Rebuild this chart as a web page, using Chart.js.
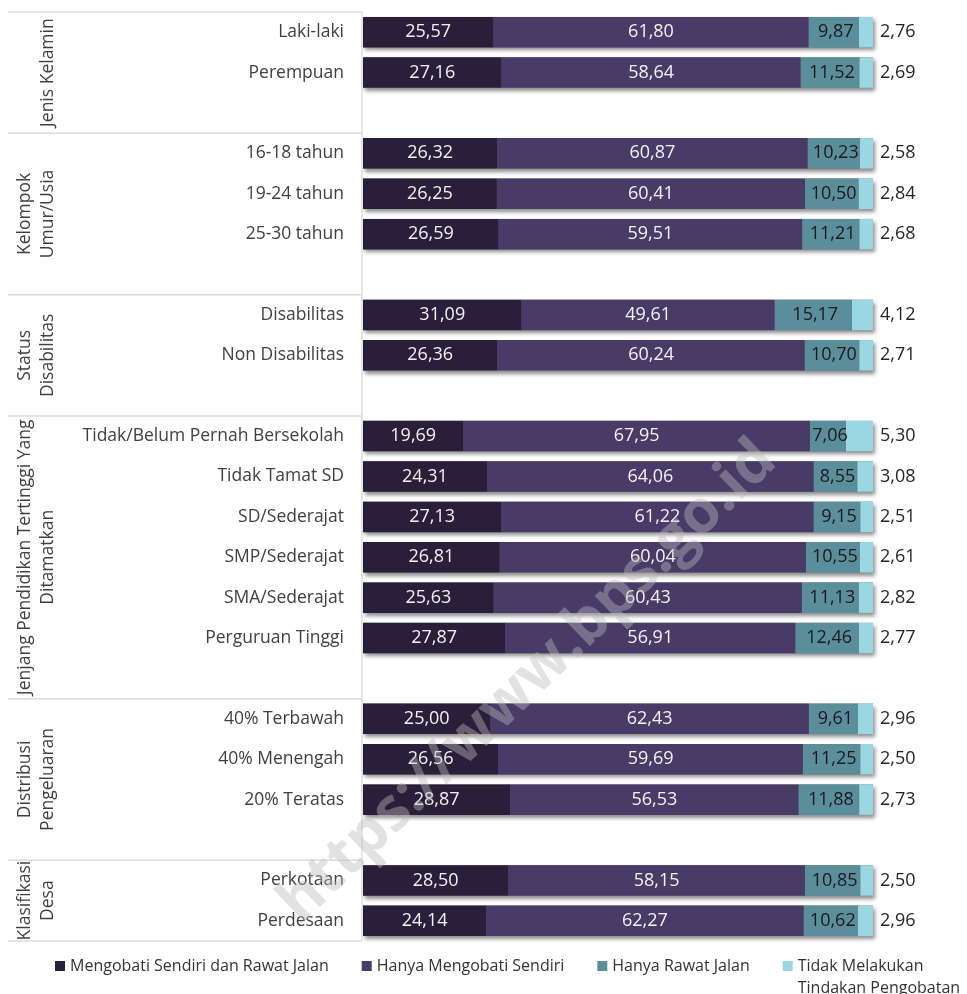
<!DOCTYPE html>
<html>
<head>
<meta charset="utf-8">
<script src="https://cdn.jsdelivr.net/npm/chart.js@4.4.1/dist/chart.umd.min.js"></script>
<style>
  html, body { margin: 0; padding: 0; background: #ffffff; }
  #wrap { width: 967px; height: 994px; position: relative; }
</style>
</head>
<body>
<div id="wrap"><canvas id="c"></canvas></div>
<script>
// ---- data ----
const categories = [
  'Laki-laki', 'Perempuan', '',
  '16-18 tahun', '19-24 tahun', '25-30 tahun', '',
  'Disabilitas', 'Non Disabilitas', '',
  'Tidak/Belum Pernah Bersekolah', 'Tidak Tamat SD', 'SD/Sederajat', 'SMP/Sederajat', 'SMA/Sederajat', 'Perguruan Tinggi', '',
  '40% Terbawah', '40% Menengah', '20% Teratas', '',
  'Perkotaan', 'Perdesaan'
];
const seriesNames = [
  'Mengobati Sendiri dan Rawat Jalan',
  'Hanya Mengobati Sendiri',
  'Hanya Rawat Jalan',
  'Tidak Melakukan Tindakan Pengobatan'
];
const mengobatiDanRawat = [25.57, 27.16, null, 26.32, 26.25, 26.59, null, 31.09, 26.36, null, 19.69, 24.31, 27.13, 26.81, 25.63, 27.87, null, 25.00, 26.56, 28.87, null, 28.50, 24.14];
const hanyaMengobati   = [61.80, 58.64, null, 60.87, 60.41, 59.51, null, 49.61, 60.24, null, 67.95, 64.06, 61.22, 60.04, 60.43, 56.91, null, 62.43, 59.69, 56.53, null, 58.15, 62.27];
const hanyaRawatJalan  = [9.87, 11.52, null, 10.23, 10.50, 11.21, null, 15.17, 10.70, null, 7.06, 8.55, 9.15, 10.55, 11.13, 12.46, null, 9.61, 11.25, 11.88, null, 10.85, 10.62];
const tidakMelakukan   = [2.76, 2.69, null, 2.58, 2.84, 2.68, null, 4.12, 2.71, null, 5.30, 3.08, 2.51, 2.61, 2.82, 2.77, null, 2.96, 2.50, 2.73, null, 2.50, 2.96];
const groupNames = [
  ['Jenis Kelamin'],
  ['Kelompok', 'Umur/Usia'],
  ['Status', 'Disabilitas'],
  ['Jenjang Pendidikan Tertinggi Yang', 'Ditamatkan'],
  ['Distribusi', 'Pengeluaran'],
  ['Klasifikasi', 'Desa']
];
const groupSizes = [3, 4, 3, 7, 4, 2];
const watermarkText = 'https://www.bps.go.id';

// ---- styles ----
const colors = ['#2a1f3a', '#483b68', '#5b8e9b', '#99d8e2'];
const FONT = "'Open Sans', 'Noto Sans', sans-serif";
const fmt = v => v.toFixed(2).replace('.', ',');

const shadowPlugin = {
  id: 'barShadow',
  beforeDatasetsDraw(chart) {
    const ctx = chart.ctx;
    const m0 = chart.getDatasetMeta(0);
    const mL = chart.getDatasetMeta(chart.data.datasets.length - 1);
    ctx.save();
    ctx.shadowColor = 'rgba(0,0,0,0.45)';
    ctx.shadowBlur = 4;
    ctx.shadowOffsetX = 2;
    ctx.shadowOffsetY = 3;
    ctx.fillStyle = '#777';
    m0.data.forEach((el, i) => {
      if (chart.data.datasets[0].data[i] == null) return;
      const last = mL.data[i];
      const h = el.height;
      ctx.fillRect(el.base, el.y - h / 2, last.x - el.base, h);
    });
    ctx.restore();
  }
};

const labelPlugin = {
  id: 'valueLabels',
  afterDatasetsDraw(chart) {
    const ctx = chart.ctx;
    ctx.save();
    ctx.font = '18px ' + FONT;
    ctx.textBaseline = 'middle';
    chart.data.datasets.forEach((ds, di) => {
      const meta = chart.getDatasetMeta(di);
      meta.data.forEach((el, i) => {
        const v = ds.data[i];
        if (v == null) return;
        if (di === 3) {
          ctx.fillStyle = '#262626';
          ctx.textAlign = 'left';
          ctx.fillText(fmt(v), el.x + 7, el.y);
        } else {
          ctx.fillStyle = di === 2 ? '#1a1a1a' : '#f2f2f2';
          ctx.textAlign = 'center';
          ctx.fillText(fmt(v), (el.x + el.base) / 2 + (di === 2 ? 2 : 0), el.y);
        }
      });
    });
    ctx.restore();
  }
};

const framePlugin = {
  id: 'groupFrame',
  afterDraw(chart) {
    const ctx = chart.ctx;
    const y = chart.scales.y;
    const area = chart.chartArea;
    const step = y.getPixelForValue(1) - y.getPixelForValue(0);
    ctx.save();
    ctx.strokeStyle = '#dcdcdc';
    ctx.lineWidth = 1.5;
    ctx.beginPath();
    ctx.moveTo(area.left - 1, area.top);
    ctx.lineTo(area.left - 1, area.bottom);
    ctx.stroke();
    let start = 0;
    const bounds = [y.getPixelForValue(0) - step / 2];
    groupSizes.forEach(n => { start += n; bounds.push(y.getPixelForValue(start - 1) + step / 2); });
    bounds.forEach(b => {
      ctx.beginPath();
      ctx.moveTo(8, b);
      ctx.lineTo(area.left - 1, b);
      ctx.stroke();
    });
    ctx.fillStyle = '#404040';
    ctx.font = '17.5px ' + FONT;
    ctx.textAlign = 'center';
    ctx.textBaseline = 'middle';
    groupNames.forEach((lines, g) => {
      const yc = (bounds[g] + bounds[g + 1]) / 2;
      lines.forEach((t, k) => {
        const x = 48 - (lines.length - 1 - k) * 23;
        ctx.save();
        ctx.translate(x, yc);
        ctx.rotate(-Math.PI / 2);
        ctx.fillText(t, 0, 0);
        ctx.restore();
      });
    });
    ctx.restore();

    // custom legend
    ctx.save();
    ctx.font = '16px ' + FONT;
    ctx.textBaseline = 'middle';
    ctx.textAlign = 'left';
    let x = 55;
    const ly = 966;
    chart.data.datasets.forEach((ds, di) => {
      ctx.fillStyle = ds.backgroundColor;
      ctx.fillRect(x, ly - 5, 10, 10);
      const words = ds.label.split(' ');
      const lines = [];
      let cur = '';
      words.forEach(w => {
        const test = cur ? cur + ' ' + w : w;
        if (ctx.measureText(test).width > 165 && cur && di === 3) { lines.push(cur); cur = w; }
        else cur = test;
      });
      lines.push(cur);
      ctx.fillStyle = '#333333';
      let maxW = 0;
      lines.forEach((l, li) => {
        ctx.fillText(l, x + 15, ly + li * 22);
        maxW = Math.max(maxW, ctx.measureText(l).width);
      });
      x += 15 + maxW + 33;
    });
    ctx.restore();

    // watermark
    ctx.save();
    ctx.translate(528, 682);
    ctx.rotate(-44 * Math.PI / 180);
    ctx.font = 'bold 60px ' + FONT;
    ctx.textAlign = 'center';
    ctx.textBaseline = 'middle';
    ctx.fillStyle = 'rgba(185,185,185,0.42)';
    ctx.fillText(watermarkText, 0, 0);
    ctx.restore();
  }
};

const seriesData = [mengobatiDanRawat, hanyaMengobati, hanyaRawatJalan, tidakMelakukan];

new Chart(document.getElementById('c'), {
  type: 'bar',
  data: {
    labels: categories,
    datasets: seriesData.map((d, i) => ({
      label: seriesNames[i],
      data: d,
      backgroundColor: colors[i],
      borderWidth: 0,
      categoryPercentage: 1,
      barPercentage: 0.755
    }))
  },
  options: {
    indexAxis: 'y',
    responsive: true,
    maintainAspectRatio: false,
    animation: false,
    layout: { padding: { left: 0, right: 94, top: 12, bottom: 53 } },
    plugins: {
      legend: { display: false },
      tooltip: { enabled: false },
      title: { display: false }
    },
    scales: {
      x: {
        stacked: true,
        min: 0,
        max: 100,
        display: false
      },
      y: {
        stacked: true,
        grid: { display: false, drawTicks: false },
        border: { display: false },
        ticks: {
          font: { family: FONT, size: 17.5 },
          color: '#404040',
          padding: 19,
          autoSkip: false
        },
        afterFit(scale) {
          scale.width = 363;
          scale.paddingTop = 0;
          scale.paddingBottom = 0;
        }
      }
    }
  },
  plugins: [shadowPlugin, labelPlugin, framePlugin]
});
</script>
</body>
</html>
